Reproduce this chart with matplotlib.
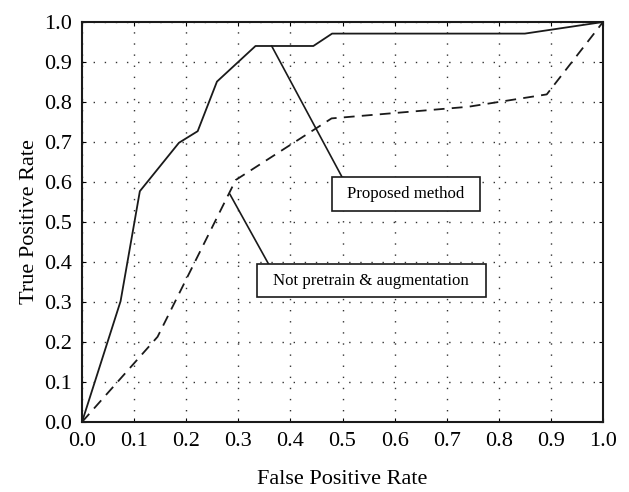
import matplotlib
matplotlib.use("Agg")
import matplotlib.pyplot as plt
from matplotlib.patches import Rectangle

# ROC curve points
fpr_proposed = [0.0, 0.074, 0.111, 0.186, 0.222, 0.259, 0.333, 0.444, 0.480, 0.850, 1.0]
tpr_proposed = [0.0, 0.302, 0.577, 0.698, 0.727, 0.851, 0.940, 0.940, 0.971, 0.971, 1.0]

fpr_baseline = [0.0, 0.145, 0.295, 0.479, 0.741, 0.892, 1.0]
tpr_baseline = [0.0, 0.213, 0.605, 0.759, 0.788, 0.819, 1.0]

ticks = [i / 10 for i in range(11)]
tick_labels = ["%.1f" % t for t in ticks]

plt.rcParams['font.family'] = ['Liberation Serif', 'DejaVu Serif']

fig = plt.figure(figsize=(6.29, 4.92), dpi=100)
ax = fig.add_axes([0.1304, 0.1423, 0.8283, 0.8130])

ax.plot(fpr_proposed, tpr_proposed, color='#1a1a1a', lw=1.3)
ax.plot(fpr_baseline, tpr_baseline, color='#1a1a1a', lw=1.3, linestyle=(0, (6, 4)))

ax.set_xlim(0, 1)
ax.set_ylim(0, 1)
ax.set_xticks(ticks)
ax.set_yticks(ticks)
ax.set_xticklabels(tick_labels, fontsize=16)
ax.set_yticklabels(tick_labels, fontsize=16)
ax.tick_params(direction='in', length=3, width=0.8, top=True, right=True, pad=7)
ax.grid(True, color='#333333', linestyle=(0, (1, 7)), linewidth=1.0)
for s in ax.spines.values():
    s.set_linewidth(1.5)
    s.set_color('#1a1a1a')

ax.set_xlabel("False Positive Rate", fontsize=16, labelpad=14)
ax.set_ylabel("True Positive Rate", fontsize=16, labelpad=4)


def callout(text, start, box_x, box_y, hook_x):
    # box given as (x0, x1), (y0, y1) in data units; leader goes to its top edge
    ax.add_patch(Rectangle((box_x[0], box_y[0]), box_x[1] - box_x[0], box_y[1] - box_y[0],
                           fc='white', ec='#1a1a1a', lw=1.2, zorder=4))
    ax.text((box_x[0] + box_x[1]) / 2, (box_y[0] + box_y[1]) / 2, text,
            fontsize=12.2, ha='center', va='center', zorder=5)
    ax.plot([start[0], hook_x], [start[1], box_y[1]], color='#1a1a1a', lw=1.2, zorder=3)


callout("Proposed method", (0.364, 0.94), (0.480, 0.764), (0.5275, 0.6125), 0.499)
callout("Not pretrain & augmentation", (0.284, 0.569), (0.335, 0.775), (0.312, 0.395), 0.358)

fig.savefig("out.png", dpi=100)
